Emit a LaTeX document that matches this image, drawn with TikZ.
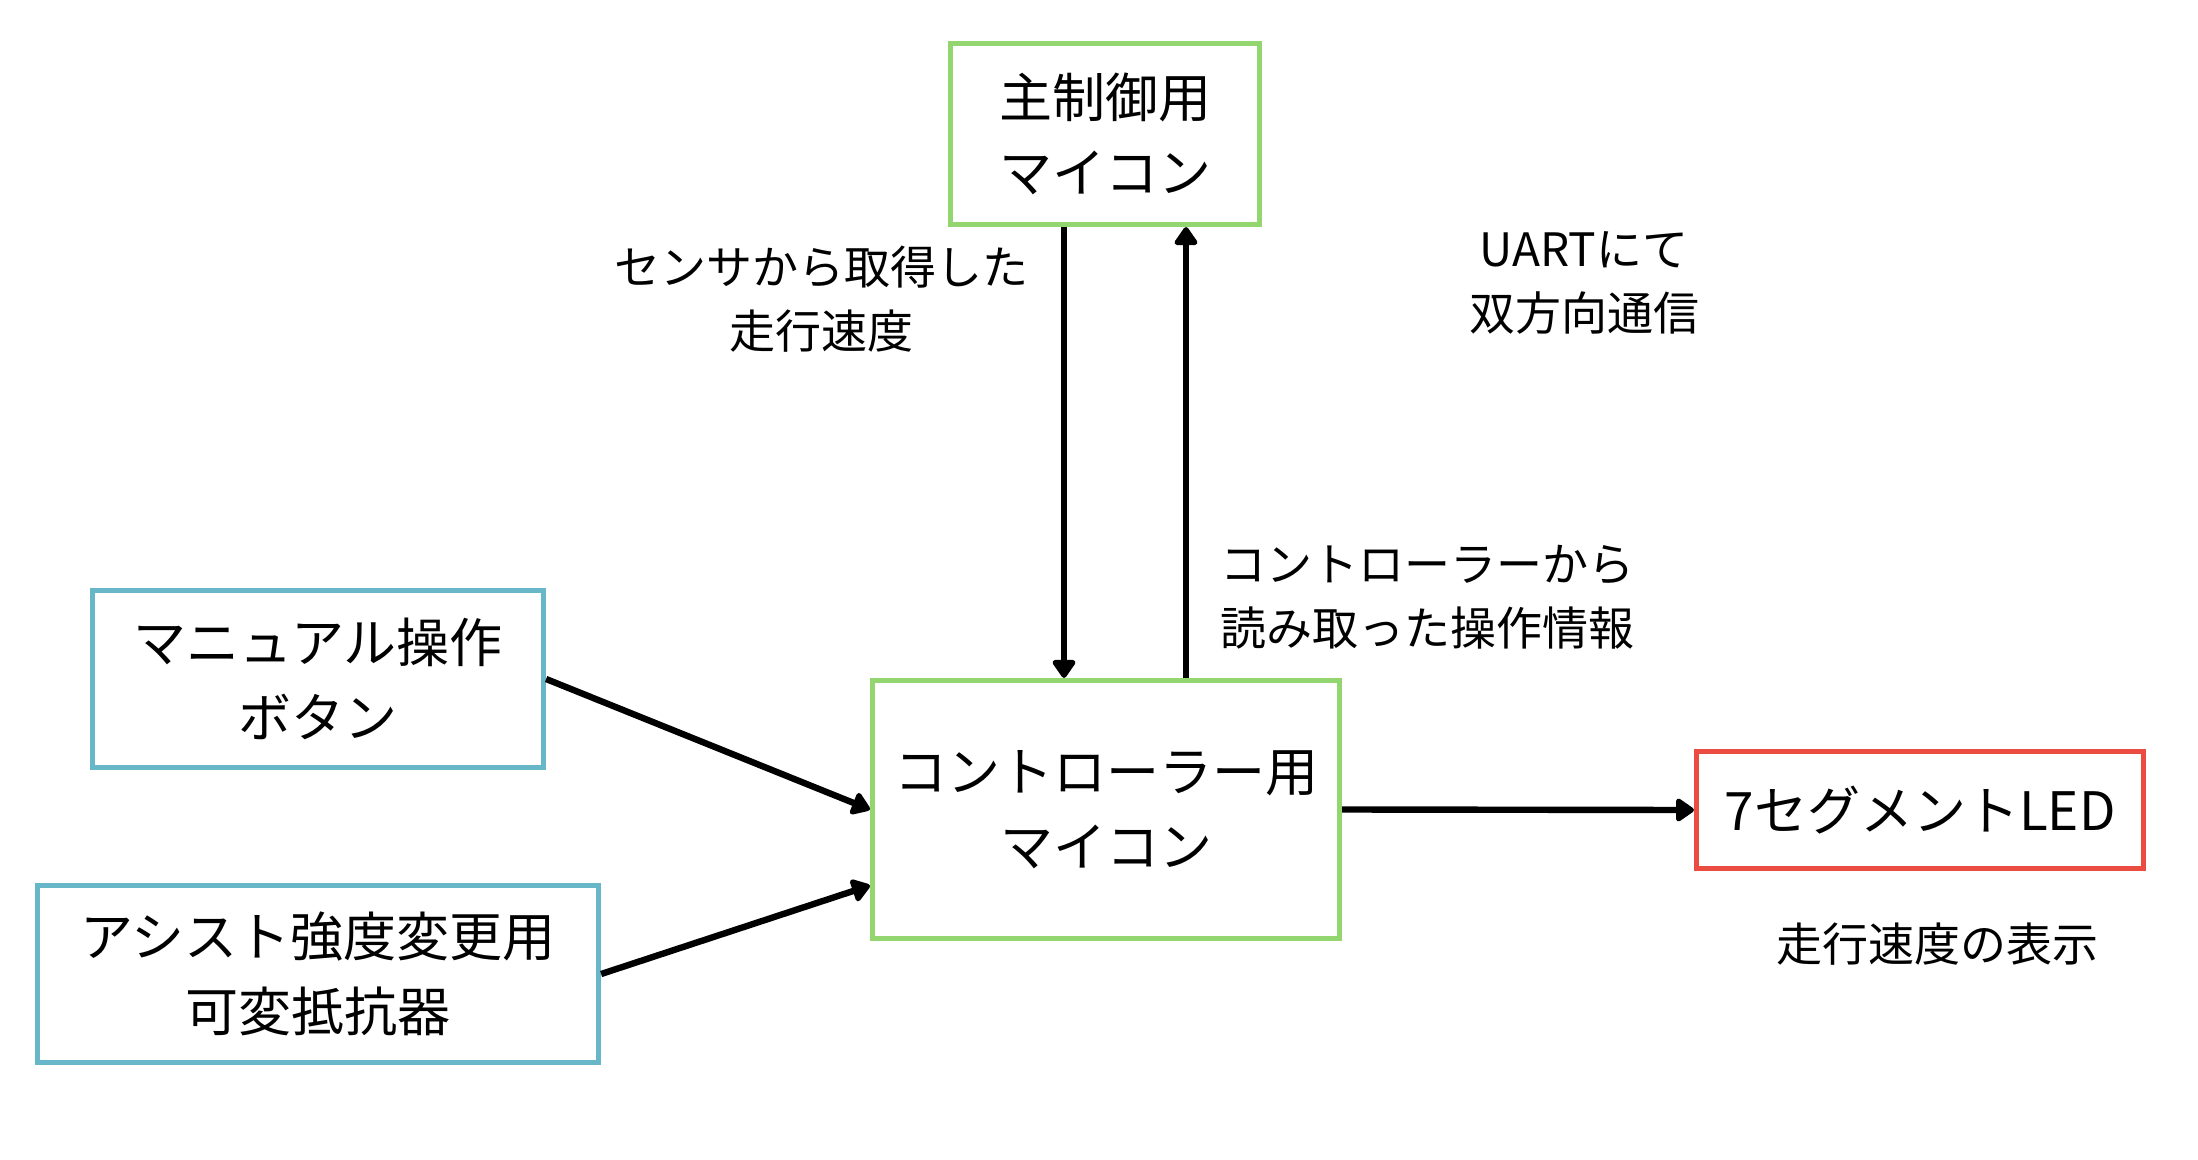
\documentclass[tikz,border=0pt]{standalone}
\usepackage{fontspec}
\setmainfont{Noto Sans CJK JP}
\usetikzlibrary{arrows.meta,calc}
\definecolor{boxgreen}{HTML}{93D66F}
\definecolor{boxblue}{HTML}{67B7C9}
\definecolor{boxred}{HTML}{EA4C42}
\newcommand\boxfont{\fontsize{26.5pt}{37.5pt}\selectfont}
\newcommand\labfont{\fontsize{23pt}{32pt}\selectfont}
\tikzset{
  box/.style={draw, line width=2.4pt, inner sep=0pt, align=center, font=\boxfont},
  gbox/.style={box, draw=boxgreen},
  bbox/.style={box, draw=boxblue},
  rbox/.style={box, draw=boxred},
  lab/.style={inner sep=0pt, font=\labfont},
  arr/.style={line width=3.2pt, -{Triangle[length=10pt,width=13pt,round]}}
}
\begin{document}
\begin{tikzpicture}[x=0.5pt,y=-0.5pt]
\fill[white] (0,0) rectangle (2198,1160);
\useasboundingbox (0,0) rectangle (2198,1160);
% boxes
\node[gbox, minimum width=154.7pt, minimum height=90.7pt] (top) at (1105,134) {主制御用\\マイコン};
\node[gbox, minimum width=233.7pt, minimum height=129.2pt] (ctrl) at (1106,809.5) {コントローラー用\\マイコン};
\node[bbox, minimum width=225.7pt, minimum height=88.7pt] (man) at (318,679) {マニュアル操作\\ボタン};
\node[bbox, minimum width=280.7pt, minimum height=88.7pt] (ast) at (318,974) {アシスト強度変更用\\可変抵抗器};
\node[rbox, minimum width=223.7pt, minimum height=58.7pt] (led) at (1920,810) {7セグメントLED};
% labels
\node[lab, align=center] (lsens) at (821,299) {センサから取得した\\走行速度};
\node[lab, align=center] (luart) at (1584,283) {UARTにて\\双方向通信};
\node[lab, align=left, anchor=west] (lop) at (1220,597) {コントローラーから\\読み取った操作情報};
\node[lab] (lled) at (1937,944) {走行速度の表示};
% connectors
\coordinate (dnx) at (1064,0);
\coordinate (upx) at (1186,0);
\draw[arr] (top.south -| dnx) -- (ctrl.north -| dnx);
\draw[arr] (ctrl.north -| upx) -- (top.south -| upx);
\draw[arr] (man.east) -- (ctrl.west);
\draw[arr] (ast.east) -- ($(ctrl.west)+(0,76)$);
\draw[arr] (ctrl.east) -- (led.west);
\end{tikzpicture}
\end{document}
